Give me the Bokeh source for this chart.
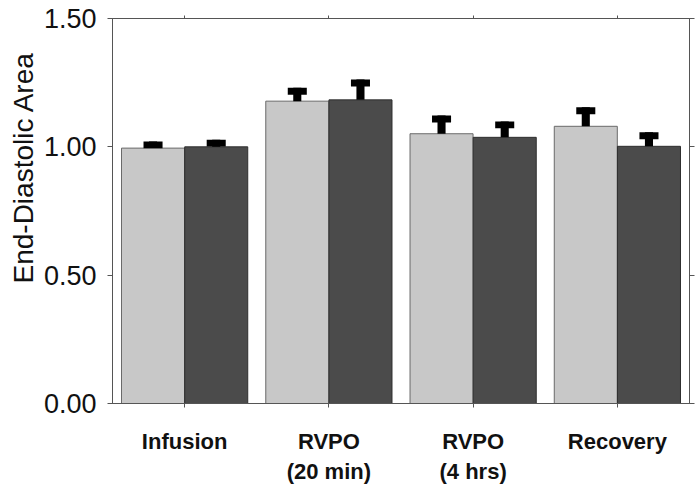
import math
from bokeh.plotting import figure
from bokeh.models import (ColumnDataSource, FactorRange, Range1d, LinearAxis,
                          CategoricalAxis, FixedTicker, Title, NumeralTickFormatter)
from bokeh.transform import dodge
from bokeh.embed import file_html
from bokeh.resources import INLINE

# ---- data ----
categories = ["Infusion", "RVPO\n(20 min)", "RVPO\n(4 hrs)", "Recovery"]
group_a = [0.995, 1.178, 1.051, 1.080]      # light bars
group_b = [1.000, 1.183, 1.037, 1.002]      # dark bars
err_a = [0.026, 0.052, 0.071, 0.074]
err_b = [0.028, 0.079, 0.062, 0.055]
y_ticks = [0.0, 0.5, 1.0, 1.5]
y_title = "End-Diastolic Area"

LIGHT = "#c8c8c8"
DARK = "#4b4b4b"
AXIS = "#555555"
TXT = "#111111"
FONT = "Liberation Sans"

BAR_W = 0.437
OFF = 0.219
CAP_H = 0.027   # cap thickness in data units (~7 px)

src = ColumnDataSource(dict(
    cat=categories,
    a=group_a, b=group_b,
    a_top=[v + e for v, e in zip(group_a, err_a)],
    b_top=[v + e for v, e in zip(group_b, err_b)],
    a_cap=[v + e - CAP_H for v, e in zip(group_a, err_a)],
    b_cap=[v + e - CAP_H for v, e in zip(group_b, err_b)],
))

p = figure(x_range=FactorRange(*categories, range_padding=0),
           y_range=Range1d(0, 1.5),
           frame_width=577, frame_height=385,
           width=695, height=485,
           min_border_left=112, min_border_right=6,
           min_border_top=18, min_border_bottom=82,
           output_backend="svg", toolbar_location=None,
           x_axis_location=None, y_axis_location=None)
p.xgrid.visible = False
p.ygrid.visible = False
p.outline_line_color = AXIS
p.outline_line_width = 1
p.background_fill_color = "white"
p.border_fill_color = "white"

# bars
p.vbar(x=dodge("cat", -OFF, range=p.x_range), top="a", bottom=0, width=BAR_W,
       source=src, fill_color=LIGHT, line_color="#6a6a6a", line_width=1)
p.vbar(x=dodge("cat", OFF, range=p.x_range), top="b", bottom=0, width=BAR_W,
       source=src, fill_color=DARK, line_color="#2e2e2e", line_width=1)

# error bars (stem + thick cap)
for col, top, cap, off in (("a", "a_top", "a_cap", -OFF), ("b", "b_top", "b_cap", OFF)):
    p.vbar(x=dodge("cat", off, range=p.x_range), top=top, bottom=col, width=0.056,
           source=src, fill_color="black", line_color=None)
    p.vbar(x=dodge("cat", off, range=p.x_range), top=top, bottom=cap, width=0.132,
           source=src, fill_color="black", line_color=None)

# left axis
ya = LinearAxis(ticker=FixedTicker(ticks=y_ticks), formatter=NumeralTickFormatter(format="0.00"))
ya.major_label_text_font = FONT
ya.major_label_text_font_size = "27px"
ya.major_label_text_color = TXT
ya.major_label_standoff = 11
ya.major_tick_out = 5
ya.major_tick_in = 0
ya.minor_tick_out = 0
ya.minor_tick_in = 0
ya.axis_line_color = AXIS
ya.major_tick_line_color = AXIS
p.add_layout(ya, "left")

# right axis (ticks only)
yr = LinearAxis(ticker=FixedTicker(ticks=y_ticks))
yr.major_label_text_font_size = "0px"
yr.major_label_text_color = None
yr.major_tick_out = 5
yr.major_tick_in = 0
yr.minor_tick_out = 0
yr.axis_line_color = AXIS
yr.major_tick_line_color = AXIS
p.add_layout(yr, "right")

# bottom categorical axis
xa = CategoricalAxis()
xa.major_label_text_font = FONT
xa.major_label_text_font_style = "bold"
xa.major_label_text_font_size = "22px"
xa.major_label_text_color = TXT
xa.major_label_standoff = 21
xa.major_tick_out = 4
xa.major_tick_in = 0
xa.axis_line_color = AXIS
xa.major_tick_line_color = AXIS
p.add_layout(xa, "below")

# top axis (ticks only)
xt = CategoricalAxis()
xt.major_label_text_font_size = "0px"
xt.major_label_text_color = None
xt.major_tick_out = 3
xt.major_tick_in = 0
xt.axis_line_color = AXIS
xt.major_tick_line_color = AXIS
p.add_layout(xt, "above")

# y title
t = Title(text=y_title, align="left", offset=120, standoff=0, vertical_align="top",
          text_font=FONT, text_font_size="28px", text_font_style="normal",
          text_color=TXT)
p.add_layout(t, "left")

open("out.html", "w").write(file_html(p, INLINE))
